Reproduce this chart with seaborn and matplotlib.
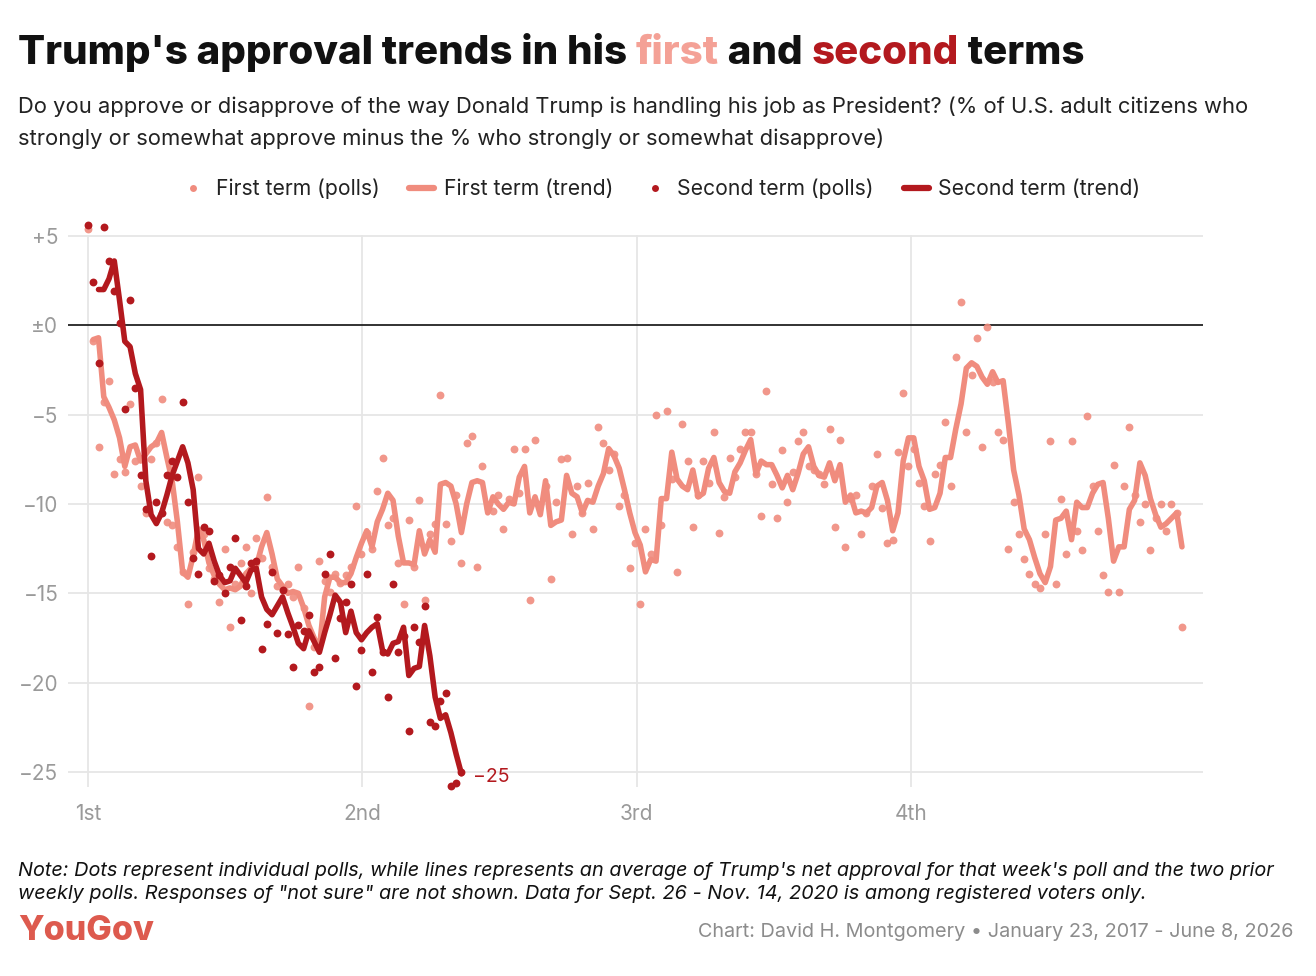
import numpy as np
import pandas as pd
import matplotlib
matplotlib.use("Agg")
import matplotlib.pyplot as plt
import seaborn as sns
from matplotlib.lines import Line2D

# net approval (approve - disapprove), one value per weekly poll
first_polls = [
    5.4, -0.9, -6.8, -4.3, -3.1, -8.3, -7.5, -8.2, -4.4, -7.6,
    -9.0, -10.5, -7.5, -6.6, -4.1, -11.0, -11.2, -12.4, -13.8, -15.6,
    -12.7, -8.5, -11.7, -13.6, -14.2, -15.5, -12.5, -16.9, -14.5, -13.3,
    -12.4, -15.0, -11.9, -13.0, -9.6, -13.5, -14.6, -14.8, -14.5, -15.2,
    -13.5, -15.8, -21.3, -18.0, -13.2, -14.3, -14.9, -13.9, -14.4, -14.0,
    -13.5, -10.1, -12.8, -11.6, -12.5, -9.3, -7.4, -11.2, -10.8, -13.3,
    -15.6, -10.9, -13.5, -9.8, -15.4, -11.7, -11.1, -3.9, -11.1, -12.1,
    -9.5, -13.3, -6.6, -6.2, -13.5, -7.9, -10.2, -10.4, -9.5, -11.4,
    -9.7, -6.9, -9.4, -6.9, -15.4, -6.4, -10.0, -9.0, -14.2, -9.9,
    -7.5, -7.4, -11.7, -9.0, -10.5, -8.8, -11.4, -5.7, -6.6, -8.1,
    -7.2, -10.1, -9.5, -13.6, -12.2, -15.6, -11.4, -12.8, -5.0, -11.2,
    -4.8, -8.6, -13.8, -5.5, -7.6, -11.3, -9.5, -7.6, -8.8, -6.0,
    -11.6, -9.6, -7.4, -8.5, -6.9, -6.0, -6.0, -8.3, -10.7, -3.7,
    -8.9, -10.8, -7.0, -9.9, -8.2, -6.5, -6.0, -7.9, -8.1, -8.3,
    -8.9, -5.8, -11.3, -6.4, -12.4, -9.7, -9.5, -11.7, -10.5, -9.0,
    -7.2, -10.2, -12.2, -12.0, -7.1, -3.8, -7.9, -6.9, -8.8, -10.1,
    -12.1, -8.3, -7.8, -5.4, -9.0, -1.8, 1.3, -6.0, -2.8, -0.7,
    -6.8, -0.1, -3.2, -6.0, -6.4, -12.5, -9.9, -11.7, -13.1, -13.9,
    -14.5, -14.7, -11.7, -6.5, -14.5, -9.7, -12.8, -6.5, -11.5, -12.6,
    -5.1, -9.0, -11.5, -14.0, -14.9, -7.8, -14.9, -9.0, -5.7, -9.5,
    -11.0, -10.0, -12.6, -10.8, -10.0, -11.5, -10.0, -10.5, -16.9,
]

# three-poll trend
first_trend = [
    np.nan, -0.8, -0.7, -4.0, -4.6, -5.3, -6.3, -7.9, -6.8, -6.7,
    -7.6, -7.2, -6.8, -6.6, -6.0, -7.4, -8.7, -11.0, -13.8, -14.1,
    -12.9, -11.4, -12.0, -13.3, -14.0, -14.5, -14.8, -14.7, -14.8, -14.6,
    -13.9, -13.6, -13.5, -12.4, -11.6, -12.8, -14.2, -14.6, -15.0, -14.9,
    -15.0, -15.8, -16.8, -17.5, -18.1, -15.2, -14.1, -14.1, -14.4, -14.4,
    -13.9, -13.0, -12.2, -11.5, -12.4, -11.0, -10.3, -9.4, -9.8, -11.8,
    -13.3, -13.3, -13.4, -11.5, -12.8, -12.0, -12.7, -8.9, -8.8, -9.0,
    -10.0, -11.6, -10.0, -8.8, -8.7, -8.8, -10.5, -9.6, -10.0, -10.3,
    -9.9, -10.0, -8.5, -7.9, -10.5, -9.6, -10.6, -8.7, -11.2, -11.0,
    -10.9, -8.4, -9.4, -9.6, -10.5, -9.8, -9.9, -9.0, -8.3, -6.9,
    -7.3, -8.0, -9.2, -10.5, -11.6, -12.3, -13.8, -13.1, -13.2, -9.7,
    -9.7, -7.1, -8.6, -9.0, -9.2, -8.1, -9.6, -9.4, -8.0, -7.4,
    -8.8, -9.3, -9.4, -8.2, -7.7, -7.0, -6.4, -8.3, -7.6, -7.8,
    -7.8, -8.4, -9.1, -8.4, -9.2, -8.3, -7.2, -6.8, -7.9, -8.4,
    -8.5, -7.7, -8.7, -7.8, -9.9, -9.5, -10.5, -10.4, -10.5, -10.2,
    -9.0, -8.8, -9.8, -11.5, -10.5, -7.6, -6.3, -6.3, -7.9, -8.7,
    -10.3, -10.2, -9.4, -7.4, -7.4, -5.8, -4.4, -2.4, -2.1, -2.3,
    -2.9, -3.3, -2.6, -3.2, -3.1, -5.5, -8.1, -9.5, -11.4, -12.0,
    -13.0, -13.9, -14.4, -13.5, -10.9, -10.8, -10.4, -12.0, -9.9, -10.2,
    -10.2, -9.4, -8.9, -8.8, -10.8, -13.2, -12.4, -12.4, -10.3, -9.8,
    -7.7, -8.4, -9.7, -10.6, -11.3, -11.1, -10.8, -10.5, -12.4,
]

second_polls = [
    5.6, 2.4, -2.1, 5.5, 3.6, 1.9, 0.1, -4.7, 1.4, -3.5,
    -8.4, -10.3, -12.9, -9.9, -10.5, -8.4, -7.6, -8.5, -4.3, -9.9,
    -13.0, -13.9, -11.3, -11.5, -14.3, -14.0, -15.0, -13.5, -11.9, -16.5,
    -14.6, -13.3, -13.2, -18.1, -16.7, -13.8, -17.2, -14.8, -17.3, -19.1,
    -16.8, -17.1, -16.2, -19.4, -19.1, -13.9, -12.8, -18.6, -16.4, -15.5,
    -14.5, -20.2, -18.2, -13.9, -19.4, -16.3, -18.3, -20.8, -14.5, -18.3,
    -17.4, -22.7, -16.9, -17.7, -15.7, -22.2, -22.4, -21.0, -20.6, -25.8,
    -25.6, -25.0,
]

second_trend = [
    np.nan, np.nan, 2.0, 2.0, 2.6, 3.6, 1.4, -0.9, -1.2, -2.7,
    -3.6, -8.7, -10.6, -11.1, -10.5, -9.5, -8.4, -7.6, -6.8, -7.7,
    -9.2, -12.5, -12.8, -12.2, -13.2, -14.0, -14.4, -14.3, -13.6, -14.0,
    -14.4, -13.7, -13.6, -15.2, -15.9, -16.2, -15.7, -15.2, -16.1, -16.9,
    -17.8, -18.1, -17.1, -17.7, -18.3, -17.2, -16.2, -15.1, -15.5, -17.2,
    -16.0, -17.2, -17.6, -17.2, -16.9, -16.7, -18.2, -18.4, -17.8, -17.7,
    -16.9, -19.6, -19.2, -19.1, -16.8, -18.5, -20.8, -22.0, -21.8, -22.8,
    -24.0, -25.1,
]

term_years = ["1st", "2nd", "3rd", "4th"]
y_ticks = [5, 0, -5, -10, -15, -20, -25]
y_tick_labels = ["+5", "\u00b10", "\u22125", "\u221210", "\u221215", "\u221220", "\u221225"]

LIGHT = "#F08C7E"
DARK = "#B3191E"
WEEKS_PER_YEAR = 365.25 / 7

first = pd.DataFrame({"week": np.arange(len(first_polls)), "poll": first_polls, "trend": first_trend})
second = pd.DataFrame({"week": np.arange(len(second_polls)), "poll": second_polls, "trend": second_trend})

sns.set_theme(style="white")
plt.rcParams["font.family"] = ["Inter", "DejaVu Sans"]

W, H = 1316, 976
fig = plt.figure(figsize=(W / 100, H / 100), dpi=100)
ax = fig.add_axes([68 / W, 1 - 787 / H, (1203 - 68) / W, (787 - 222) / H])

ylo, yhi = -25.84, 5.78
ax.set_xlim(-3.8, 212)
ax.set_ylim(ylo, yhi)

# grid
for v in y_ticks:
    if v == 0:
        ax.axhline(0, color="#222222", lw=1.3, zorder=2)
    else:
        ax.axhline(v, color="#E6E6E6", lw=1.3, zorder=0)
vtop = (5 - ylo) / (yhi - ylo)
for k in range(len(term_years)):
    ax.axvline(k * WEEKS_PER_YEAR, ymin=0, ymax=vtop, color="#E6E6E6", lw=1.3, zorder=0)

sns.scatterplot(data=first, x="week", y="poll", color=LIGHT, s=32, linewidth=0,
                alpha=0.9, ax=ax, zorder=3, legend=False)
sns.lineplot(data=first, x="week", y="trend", color=LIGHT, lw=4, ax=ax, zorder=4,
             legend=False, solid_capstyle="round", solid_joinstyle="round")
sns.scatterplot(data=second, x="week", y="poll", color=DARK, s=32, linewidth=0,
                ax=ax, zorder=5, legend=False, clip_on=False)
sns.lineplot(data=second, x="week", y="trend", color=DARK, lw=4, ax=ax, zorder=6,
             legend=False, solid_capstyle="round", solid_joinstyle="round")

last_w = second["week"].iloc[-1]
last_v = second["trend"].iloc[-1]
ax.annotate("\u2212%d" % round(abs(last_v)), (last_w, last_v), xytext=(8, -2),
            textcoords="offset points", color=DARK, fontsize=14, va="center", ha="left")

for s in ax.spines.values():
    s.set_visible(False)
ax.set_xticks([k * WEEKS_PER_YEAR for k in range(len(term_years))])
ax.set_xticklabels(term_years)
ax.set_yticks(y_ticks)
ax.set_yticklabels(y_tick_labels)
ax.tick_params(axis="both", length=0, labelsize=15, labelcolor="#9A9A9A")
ax.tick_params(axis="x", pad=12)
ax.tick_params(axis="y", pad=7)
ax.set_xlabel("")
ax.set_ylabel("")

# legend
handles = [
    Line2D([], [], ls="", marker="o", ms=5, color=LIGHT, mec="none"),
    Line2D([], [], color=LIGHT, lw=4.5, solid_capstyle="round"),
    Line2D([], [], ls="", marker="o", ms=5, color=DARK, mec="none"),
    Line2D([], [], color=DARK, lw=4.5, solid_capstyle="round"),
]
labels = ["First term (polls)", "First term (trend)", "Second term (polls)", "Second term (trend)"]
fig.legend(handles, labels, loc="center", bbox_to_anchor=(0.502, 1 - 189 / H), ncol=4,
           frameon=False, fontsize=15.2, handlelength=1.2, handletextpad=0.45,
           columnspacing=1.4, labelcolor="#222222")

# title with coloured words
renderer = fig.canvas.get_renderer()


def text_width(s, **kw):
    t1 = fig.text(0, 0, s + "|", **kw)
    t2 = fig.text(0, 0, "|", **kw)
    w = t1.get_window_extent(renderer).width - t2.get_window_extent(renderer).width
    t1.remove()
    t2.remove()
    return w


title_parts = [("Trump's approval trends in his ", "#111111"), ("first", "#F4A196"),
               (" and ", "#111111"), ("second", DARK), (" terms", "#111111")]
title_kw = dict(fontsize=29, fontweight="heavy", va="baseline", ha="left")
x = 18
for txt, col in title_parts:
    fig.text(x / W, 1 - 64 / H, txt, color=col, **title_kw)
    x += text_width(txt, **title_kw)

sub_kw = dict(fontsize=15.8, color="#222222", va="baseline", ha="left")
fig.text(18 / W, 1 - 113 / H, "Do you approve or disapprove of the way Donald Trump is handling his job as "
         "President? (% of U.S. adult citizens who", **sub_kw)
fig.text(18 / W, 1 - 145 / H, "strongly or somewhat approve minus the % who strongly or somewhat disapprove)",
         **sub_kw)

note_kw = dict(fontsize=14.3, color="#111111", style="italic", va="baseline", ha="left")
fig.text(18 / W, 1 - 876 / H, "Note: Dots represent individual polls, while lines represents an average of "
         "Trump's net approval for that week's poll and the two prior", **note_kw)
fig.text(18 / W, 1 - 899 / H, "weekly polls. Responses of \"not sure\" are not shown. Data for Sept. 26 - "
         "Nov. 14, 2020 is among registered voters only.", **note_kw)

fig.text(18 / W, 1 - 940 / H, "YouGov", fontsize=24.5, fontweight="heavy", color="#DD5A4E",
         va="baseline", ha="left")
fig.text(1293 / W, 1 - 937 / H, "Chart: David H. Montgomery \u2022 January 23, 2017 - June 8, 2026",
         fontsize=14.3, color="#8C8C8C", va="baseline", ha="right")

fig.savefig("out.png", dpi=100, facecolor="white")
